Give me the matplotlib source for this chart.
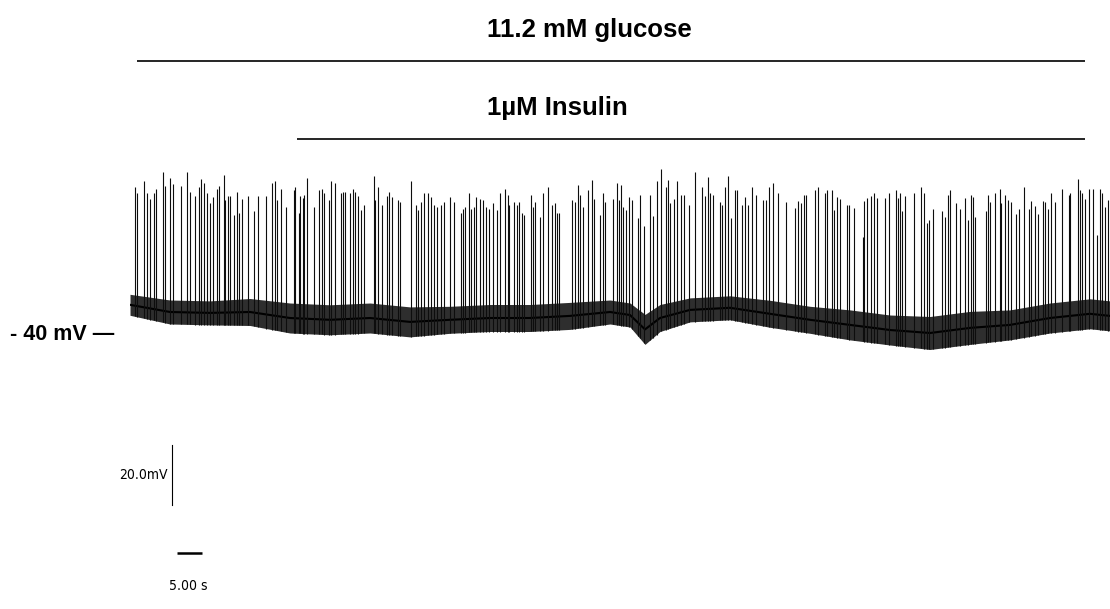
import numpy as np
import matplotlib
matplotlib.use('Agg')
import matplotlib.pyplot as plt

plt.rcParams['font.family'] = ['Liberation Sans', 'DejaVu Sans']

# spike times (s) and peak potentials (mV)
spike_t = [0.9, 1.4, 2.7, 3.4, 3.9, 4.7, 5.2, 6.5, 7.0, 8.0, 8.5, 10.1, 11.3, 11.9, 12.9, 13.7, 14.2, 14.7,
           15.3, 15.9, 16.5, 17.3, 17.8, 18.7, 18.9, 19.5, 20.0, 20.7, 21.3, 21.8, 22.4,
           23.5, 24.7, 25.5, 27.2, 28.3, 28.9, 29.3, 30.1, 31.1, 32.7, 33.0, 33.7, 33.9, 34.5, 34.8, 35.3,
           36.7, 37.8, 38.3, 38.7, 39.7, 40.2, 40.9, 42.1, 42.5, 42.9, 43.9, 44.5, 45.0, 45.5, 46.1, 46.8,
           48.7, 49.0, 49.5, 50.3, 51.3, 51.8, 52.3, 53.5, 54.0, 56.1, 57.1, 57.5, 58.1, 58.7, 59.5, 60.2,
           60.7, 61.4, 62.1, 62.7, 64.0, 64.7, 66.1, 66.5, 66.9, 67.7, 68.1, 68.7, 69.1, 69.9, 70.5, 71.1, 71.7,
           72.5, 73.3, 73.9, 74.9, 75.5, 75.8, 76.7, 77.3, 77.7, 78.3, 78.7, 80.1, 80.5, 81.0, 82.0, 82.6,
           83.5, 84.3, 84.9, 85.4, 85.8, 88.3, 89.0, 89.5, 89.9, 90.5, 91.5, 92.4, 92.8, 93.9, 94.5, 95.0,
           96.5, 97.4, 97.7, 98.1, 98.6, 99.1, 99.7, 100.3, 101.5, 101.9, 102.7, 104.0, 104.5, 105.3, 106.1,
           107.1, 107.6, 108.0, 108.8, 109.4, 110.2, 110.7, 111.7, 112.9, 114.3, 114.9, 115.5, 116.0, 116.6,
           117.9, 118.3, 118.9, 119.5,
           120.1, 121.0, 121.4, 122.3, 123.0, 123.5, 124.3, 125.2, 126.5, 127.1, 127.7, 128.6, 129.5, 131.1,
           133.0, 133.6, 134.1, 134.8, 135.2, 136.9, 137.5, 139.0, 139.4, 140.3, 140.7, 141.3, 141.9, 143.3, 143.8,
           144.8, 146.5, 146.7, 147.3, 148.1, 148.7, 149.4, 150.9, 151.7, 153.1, 153.5, 153.9, 154.3, 155.0,
           156.8, 158.1, 158.8, 159.3, 159.7, 160.5, 162.3, 162.9, 163.6, 164.0, 165.1, 165.9, 166.9,
           167.5, 168.1, 168.5, 168.9, 171.1, 171.5, 171.9, 173.0, 173.9, 174.1, 175.0, 175.5, 176.2, 177.1,
           177.7, 178.7, 179.7, 180.1, 180.9, 181.5, 182.5, 183.0, 183.5, 184.2, 184.9, 186.3, 187.7, 188.0,
           189.5, 189.9, 190.3, 191.0, 191.7, 192.5, 193.3, 193.9, 194.3, 194.9, 195.5]
spike_v = [9.1, 6.9, 11.1, 6.9, 4.9, 6.9, 8.4, 13.8, 9.3, 11.9, 10.0, 9.3, 13.8, 7.4, 5.8, 9.1, 11.6, 10.2,
           6.9, 3.6, 5.6, 8.2, 9.3, 13.0, 4.7, 5.8, 5.8, -0.3, 7.4, 0.2, 4.9,
           5.8, 0.8, 5.8, 5.8, 10.2, 11.1, 4.7, 8.2, 2.2, 8.0, 9.1, 0.4, 5.8, 5.2, 6.3, 11.9,
           2.2, 8.0, 8.2, 6.9, 4.7, 10.8, 10.2, 6.9, 7.4, 7.4, 7.1, 8.2, 7.4, 5.8, 1.3, 3.0,
           12.7, 4.7, 9.1, 3.0, 5.8, 7.4, 5.6, 4.7, 3.8, 11.1, 3.0, 1.3, 3.8, 7.1, 7.1, 5.6,
           3.0, 2.4, 3.0, 3.8, 5.6, 3.8, 0.2, 1.6, 2.4, 7.1, 1.6, 2.4, 5.6, 4.9, 4.7, 2.4, 1.6,
           3.6, 1.3, 7.1, 8.2, 6.3, 3.0, 3.8, 3.0, 3.8, 0.4, -0.3, 6.3, 2.4, 3.8, -1.1, 7.1,
           8.9, 3.0, 3.6, 0.4, 0.4, 4.7, 3.8, 9.7, 6.3, 2.4, 8.0, 11.3, 4.9, -0.3, 7.1, 3.8,
           4.9, 10.4, 4.7, 9.7, 2.4, 1.3, 5.6, 4.7, -1.4, 6.3, -4.2, 6.3, -0.7, 10.8, 14.9,
           9.1, 11.3, 3.6, 4.9, 10.8, 6.3, 6.3, 3.0, 14.1, 8.9, 5.8, 12.4, 7.1, 6.3,
           3.8, 3.0, 8.9, 12.7,
           -1.4, 8.0, 8.0, 3.0, 5.6, 3.0, 8.9, 6.3, 4.7, 4.7, 8.9, 10.4, 7.1, 4.1,
           1.9, 4.4, 3.6, 6.3, 6.3, 8.0, 8.9, 7.1, 8.0, 8.0, 1.3, 5.6, 4.9, 3.0, 3.0,
           1.9, -7.6, 4.4, 5.2, 5.8, 7.1, 5.2, 5.2, 7.1, 8.0, 5.2, 7.1, 0.8, 6.0,
           7.1, 8.9, 7.1, -3.1, -2.0, 1.6, 0.8, -1.1, 6.3, 8.0, 3.6, 1.6, 5.2,
           -2.0, 6.3, 5.6, -1.1, 0.8, 6.3, 3.8, 7.1, 8.2, 3.6, 6.3, 4.7, 3.8, 0.0,
           1.6, 9.1, 1.6, 4.4, 2.7, 0.0, 4.4, 4.1, 1.6, 7.1, 3.8, 8.2, 6.3, 7.1,
           11.6, 8.0, 7.1, 4.9, 8.2, 8.2, -7.0, 8.2, 7.1, 2.4, 4.7]

# resting potential between spikes (mV) and its noise half-width
base_t = [0, 8, 16, 24, 32, 40, 48, 56, 64, 72, 80, 88, 96, 100, 103, 106, 112, 120,
          128, 136, 144, 152, 160, 168, 176, 184, 192, 196]
base_v = [-30.3, -32.7, -33.0, -32.7, -34.7, -35.3, -34.7, -36.0, -35.3, -34.7, -34.7, -34.0,
          -32.7, -33.7, -38.5, -34.7, -32.0, -31.3, -33.3, -35.3, -37.0, -38.7, -39.7, -38.0,
          -37.0, -34.7, -33.3, -34.0]
base_noise = [3.5, 4.0, 4.0, 4.5, 5.0, 5.0, 5.0, 5.0, 4.5, 4.5, 4.5, 4.5, 4.0, 4.0, 5.0, 4.5,
              4.0, 4.0, 4.5, 4.5, 5.0, 5.0, 5.5, 5.5, 5.0, 5.0, 5.0, 5.0]

# drug applications: label, start (s), end (s)
cond_labels = ['11.2 mM glucose', '1\u00b5M Insulin']
cond_start = [1.4, 33.4]
cond_end = [191.0, 191.0]

fig = plt.figure(figsize=(11.1, 6.09), dpi=100)
ax = fig.add_axes([130 / 1110, 0, 980 / 1110, 1])
ax.set_xlim(0, 196)
ax.set_ylim(-131.7, 71.3)
ax.axis('off')

bt = np.array(base_t)
bv = np.array(base_v)
bn = np.array(base_noise)
ax.fill_between(bt, bv - bn, bv + bn, color='0.18', lw=0)
ax.plot(bt, bv, color='black', lw=1.5)

# each spike drawn from the bottom of the noise band to its peak
foot = np.interp(spike_t, bt, bv - bn)
ax.vlines(spike_t, foot, spike_v, color='0.05', lw=0.8)

# application bars
cond_y = [51, 25]
for s, e, y in zip(cond_start, cond_end, cond_y):
    ax.plot([s, e], [y, y], color='black', lw=1.2, solid_capstyle='butt')
ax.text(91.8, 61.3, cond_labels[0], ha='center', va='center', fontsize=18.5, fontweight='bold')
ax.text(85.4, 35.3, cond_labels[1], ha='center', va='center', fontsize=18.5, fontweight='bold')

fig.text(10 / 1110, 1 - 334 / 609, '- 40 mV \u2014', ha='left', va='center', fontsize=15.5, fontweight='bold')

# scale bars
ax.plot([8.4, 8.4], [-97, -77], color='black', lw=0.8)
ax.text(7.6, -87, '20.0mV', ha='right', va='center', fontsize=10,
        family='DejaVu Sans', fontstretch='condensed')
ax.plot([9.4, 14.4], [-113, -113], color='black', lw=1.8, solid_capstyle='butt')
ax.text(11.6, -124, '5.00 s', ha='center', va='center', fontsize=10,
        family='DejaVu Sans', fontstretch='condensed')

fig.savefig('out.png', dpi=100)
